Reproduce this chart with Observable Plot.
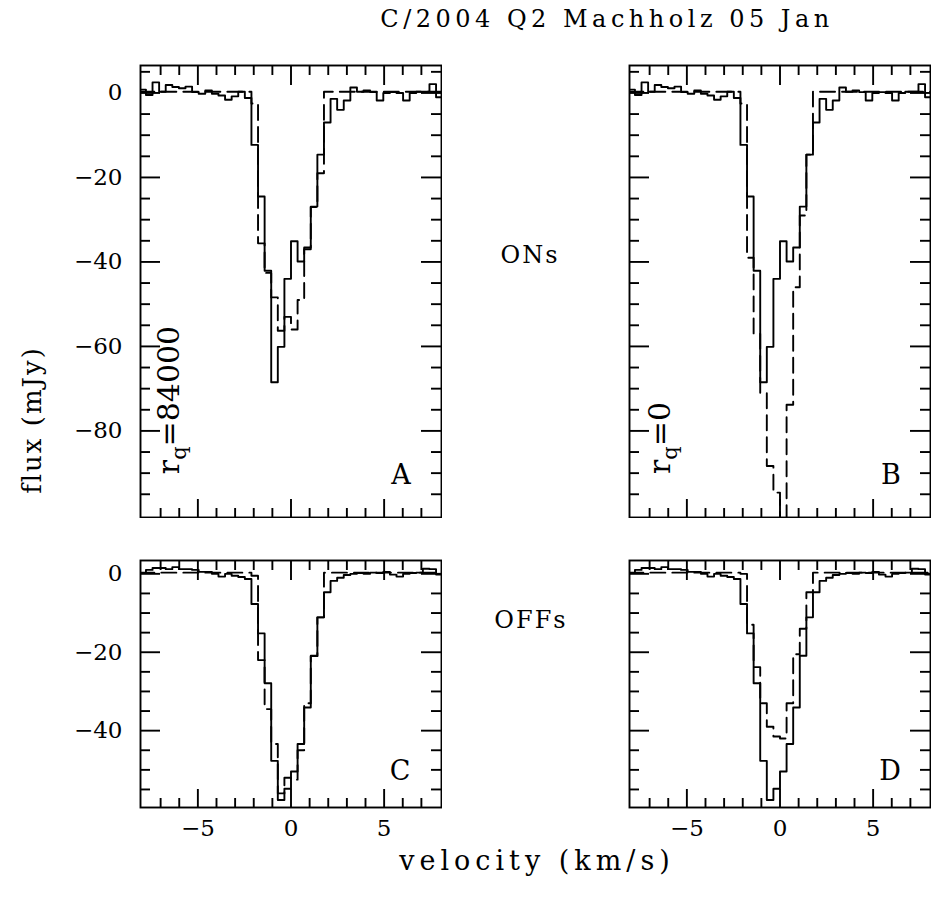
<!DOCTYPE html>
<html><head><meta charset="utf-8">
<script src="https://cdn.jsdelivr.net/npm/d3@7"></script>
<script src="https://cdn.jsdelivr.net/npm/@observablehq/plot@0.6"></script>
<style>
body{margin:0;background:#fff;}
#root{position:relative;width:937px;height:899px;font-family:"DejaVu Serif",serif;color:#000;overflow:hidden;}
.t{position:absolute;white-space:nowrap;line-height:1;}
.p{position:absolute;}
</style></head><body><div id="root"></div>
<script>
// channel grid (km/s)
const channelStart = -8.142;
const channelWidth = 0.354;

// Observed ON spectrum (panels A and B), mJy, one value per channel
const onObserved = [0.8,-0.5,2.5,0.3,1.9,1.4,1.1,1.5,0.2,-0.2,0.6,-0.2,-0.6,-1.6,-0.8,0.3,-1.2,
  -12.3,-24.5,-42.1,-68.5,-60.1,-44.0,-35.1,-39.9,-36.6,-26.9,-14.6,-7.0,
  -1.4,-4.0,-1.8,1.3,0.3,0.6,0.2,-1.8,0,0.2,0,-1.8,0,0.3,0.3,2.1,-1.0];
// Model ON, r_q = 84000 (panel A)
const onModelA = [0.3,0.3,0.3,0.3,0.3,0.3,0.3,0.3,0.3,0.3,0.3,0.3,0.3,0.3,0.3,0.3,0.3,
  -2.5,-35.6,-42.6,-48.4,-56.3,-53.0,-56.0,-49.0,-37.0,-27.0,-19.0,0.3,
  0.3,0.3,0.3,0.3,0.3,0.3,0.3,0.3,0.3,0.3,0.3,0.3,0.3,0.3,0.3,0.3,0.3];
// Model ON, r_q = 0 (panel B)
const onModelB = [0.3,0.3,0.3,0.3,0.3,0.3,0.3,0.3,0.3,0.3,0.3,0.3,0.3,0.3,0.3,0.3,0.3,
  -2.5,-39.0,-57.0,-71.0,-88.3,-94.6,-102.0,-73.8,-46.0,-29.0,-14.6,0.3,
  0.3,0.3,0.3,0.3,0.3,0.3,0.3,0.3,0.3,0.3,0.3,0.3,0.3,0.3,0.3,0.3,0.3];
// Observed OFF spectrum (panels C and D)
const offObserved = [0.2,1.0,1.5,1.5,1.2,1.7,1.2,1.2,1.0,0.5,0.5,0,-0.7,0,-0.5,-0.8,-1.3,
  -7.7,-15.2,-27.9,-47.7,-57.7,-54.8,-50.4,-43.4,-34.1,-20.9,-11.1,-4.7,
  -1.8,-1.0,-0.3,0,0.2,0,0.3,0.2,0.5,-0.2,-0.7,0,0.2,0.3,1.3,1.2,-0.2];
// Model OFF, r_q = 84000 (panel C)
const offModelC = [0.3,0.3,0.3,0.3,0.3,0.3,0.3,0.3,0.3,0.3,0.3,0.3,0.3,0.3,0.3,0.3,0.3,
  -0.5,-22.0,-34.5,-43.4,-56.0,-52.0,-52.5,-45.0,-33.0,-21.0,-11.1,0.3,
  0.3,0.3,0.3,0.3,0.3,0.3,0.3,0.3,0.3,0.3,0.3,0.3,0.3,0.3,0.3,0.3,0.3];
// Model OFF, r_q = 0 (panel D)
const offModelD = [0.3,0.3,0.3,0.3,0.3,0.3,0.3,0.3,0.3,0.3,0.3,0.3,0.3,0.3,0.3,0.3,0.3,
  0,-13.0,-23.8,-33.0,-39.0,-41.5,-42.0,-33.0,-20.5,-14.0,-4.7,0.3,
  0.3,0.3,0.3,0.3,0.3,0.3,0.3,0.3,0.3,0.3,0.3,0.3,0.3,0.3,0.3,0.3,0.3];

const xDomain = [-8.08, 8.08];
const xMajor = [-5, 0, 5];
const xMinor = [-7,-6,-4,-3,-2,-1,1,2,3,4,6,7];
const xTickLabels = [-5, 0, 5];

const yDomainON = [-100.5, 6.5];
const yMajorON = [0,-20,-40,-60,-80];
const yMinorON = [5,-5,-10,-15,-25,-30,-35,-45,-50,-55,-65,-70,-75,-85,-90,-95];
const yTickLabelsON = [0,-20,-40,-60,-80];

const yDomainOFF = [-59.6, 3.4];
const yMajorOFF = [0,-20,-40];
const yMinorOFF = [-5,-10,-15,-25,-30,-35,-45,-50,-55];
const yTickLabelsOFF = [0,-20,-40];

const titleText = "C/2004 Q2 Machholz 05 Jan";
const xLabelText = "velocity (km/s)";
const yLabelText = "flux (mJy)";

const root = document.getElementById("root");
const FONT = "DejaVu Serif";

function steps(values) {
  const pts = values.map((f, i) => ({v: channelStart + i * channelWidth, f}));
  pts.push({v: channelStart + values.length * channelWidth, f: values[values.length - 1]});
  return pts;
}

function panel({obs, model, yDomain, yMajor, yMinor, yLabels, showX, left, top, w, h}) {
  const mL = yLabels ? 110 : 1, mR = 1, mT = 1, mB = showX ? 45 : 1;
  const lw = 1.9;
  const marks = [
    Plot.line(steps(obs), {x: "v", y: "f", curve: "step-after", stroke: "#000", strokeWidth: lw, clip: true}),
    Plot.line(steps(model), {x: "v", y: "f", curve: "step-after", stroke: "#000", strokeWidth: lw, strokeDasharray: "15,7", clip: true}),
    Plot.ruleX(xMajor, {x: d => d, insetTop: h - 18, stroke: "#000", strokeWidth: lw}),
    Plot.ruleX(xMajor, {x: d => d, insetBottom: h - 20, stroke: "#000", strokeWidth: lw}),
    Plot.ruleX(xMinor, {x: d => d, insetTop: h - 9, stroke: "#000", strokeWidth: lw}),
    Plot.ruleX(xMinor, {x: d => d, insetBottom: h - 10, stroke: "#000", strokeWidth: lw}),
    Plot.ruleY(yMajor, {y: d => d, insetRight: w - 20, stroke: "#000", strokeWidth: lw}),
    Plot.ruleY(yMajor, {y: d => d, insetLeft: w - 20, stroke: "#000", strokeWidth: lw}),
    Plot.ruleY(yMinor, {y: d => d, insetRight: w - 10, stroke: "#000", strokeWidth: lw}),
    Plot.ruleY(yMinor, {y: d => d, insetLeft: w - 10, stroke: "#000", strokeWidth: lw}),
    Plot.frame({stroke: "#000", strokeWidth: lw})
  ];
  if (yLabels) marks.push(Plot.axisY(yLabels, {anchor: "left", tickSize: 0, tickPadding: 18, fontSize: 23, label: null}));
  if (showX) marks.push(Plot.axisX(xTickLabels, {anchor: "bottom", tickSize: 0, tickPadding: 12, fontSize: 23, label: null}));
  const svg = Plot.plot({
    width: w + mL + mR, height: h + mT + mB,
    marginLeft: mL, marginRight: mR, marginTop: mT, marginBottom: mB,
    x: {domain: xDomain, axis: null},
    y: {domain: yDomain, axis: null},
    style: {fontFamily: FONT, background: "transparent", color: "#000"},
    marks
  });
  const div = document.createElement("div");
  div.className = "p";
  div.style.left = (left - mL) + "px";
  div.style.top = (top - mT) + "px";
  div.appendChild(svg);
  root.appendChild(div);
}

panel({obs: onObserved, model: onModelA, yDomain: yDomainON, yMajor: yMajorON, yMinor: yMinorON, yLabels: yTickLabelsON, showX: false, left: 140, top: 65, w: 301, h: 452});
panel({obs: onObserved, model: onModelB, yDomain: yDomainON, yMajor: yMajorON, yMinor: yMinorON, yLabels: null, showX: false, left: 629, top: 65, w: 301, h: 452});
panel({obs: offObserved, model: offModelC, yDomain: yDomainOFF, yMajor: yMajorOFF, yMinor: yMinorOFF, yLabels: yTickLabelsOFF, showX: true, left: 140, top: 560, w: 301, h: 247});
panel({obs: offObserved, model: offModelD, yDomain: yDomainOFF, yMajor: yMajorOFF, yMinor: yMinorOFF, yLabels: null, showX: true, left: 629, top: 560, w: 301, h: 247});

function label(html, cx, cy, size, rotate, extra) {
  const d = document.createElement("div");
  d.className = "t";
  d.innerHTML = html;
  d.style.fontSize = size + "px";
  d.style.left = cx + "px";
  d.style.top = cy + "px";
  d.style.transform = "translate(-50%,-50%)" + (rotate ? " rotate(-90deg)" : "");
  if (extra) Object.assign(d.style, extra);
  root.appendChild(d);
}

label(titleText, 607, 19, 24, false, {letterSpacing: "4.5px"});
label(yLabelText, 32, 420, 26, true, {letterSpacing: "2px"});
label(xLabelText, 537, 860, 27, false, {letterSpacing: "5px"});
label("ONs", 530, 255, 24, false, {letterSpacing: "2px"});
label("OFFs", 531, 620, 24, false, {letterSpacing: "2px"});
label("A", 401, 474, 27, false);
label("B", 891, 474, 27, false);
label("C", 400, 770, 27, false);
label("D", 890, 770, 27, false);
label('r<sub style="font-size:0.7em;vertical-align:-0.3em">q</sub>=84000', 172, 400, 30, true);
label('r<sub style="font-size:0.7em;vertical-align:-0.3em">q</sub>=0', 663, 438, 30, true);
</script></body></html>
